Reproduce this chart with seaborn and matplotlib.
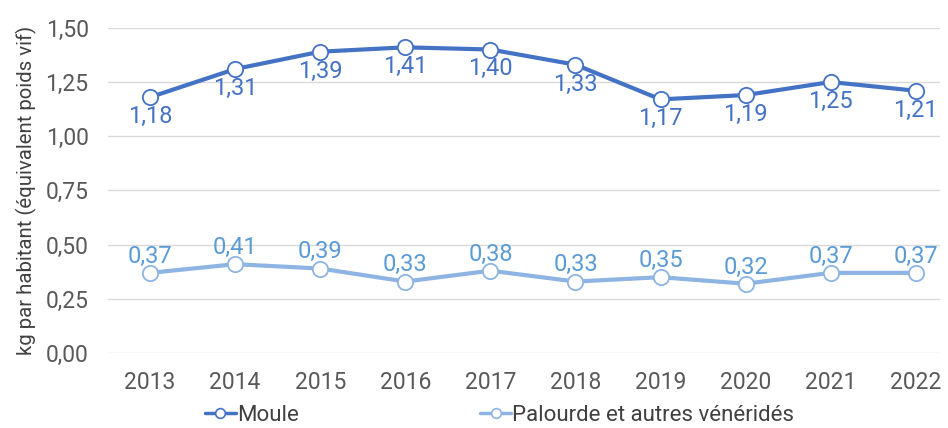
import matplotlib
matplotlib.use("Agg")
import matplotlib.pyplot as plt
import seaborn as sns
import pandas as pd
from matplotlib.lines import Line2D

years = ["2013", "2014", "2015", "2016", "2017", "2018", "2019", "2020", "2021", "2022"]
moule = [1.18, 1.31, 1.39, 1.41, 1.40, 1.33, 1.17, 1.19, 1.25, 1.21]
palourde = [0.37, 0.41, 0.39, 0.33, 0.38, 0.33, 0.35, 0.32, 0.37, 0.37]
series_names = ["Moule", "Palourde et autres vénéridés"]
y_ticks = [0.0, 0.25, 0.5, 0.75, 1.0, 1.25, 1.5]
y_label = "kg par habitant (équivalent poids vif)"

line_colors = ["#4472C4", "#8DB4E2"]
label_colors = ["#4472C4", "#5B9BD5"]

sns.set_theme(style="white")
plt.rcParams["font.family"] = ["Roboto", "DejaVu Sans"]

df = pd.DataFrame({
    "x": list(range(len(years))) * 2,
    "value": moule + palourde,
    "serie": [series_names[0]] * len(years) + [series_names[1]] * len(years),
})

fig = plt.figure(figsize=(9.48, 4.28), dpi=100)
ax = fig.add_axes([0.114, 0.175, 0.878, 0.76])

sns.lineplot(data=df, x="x", y="value", hue="serie", palette=line_colors,
             hue_order=series_names, marker="o", markersize=11,
             markerfacecolor="white", markeredgewidth=1.3, linewidth=3,
             ax=ax, legend=False, zorder=3)
for ln, c in zip(ax.get_lines(), line_colors):
    ln.set_markeredgecolor(c)

for i, v in enumerate(moule):
    ax.annotate(f"{v:.2f}".replace(".", ","), (i, v), xytext=(0, -14),
                textcoords="offset points", ha="center", va="center",
                fontsize=17, color=label_colors[0])
for i, v in enumerate(palourde):
    ax.annotate(f"{v:.2f}".replace(".", ","), (i, v), xytext=(0, 12),
                textcoords="offset points", ha="center", va="center",
                fontsize=17, color=label_colors[1])

ax.set_ylim(0, 1.5)
ax.set_xlim(-0.494, 9.29)
ax.set_yticks(y_ticks)
ax.set_yticklabels([f"{t:.2f}".replace(".", ",") for t in y_ticks])
ax.set_xticks(range(len(years)))
ax.set_xticklabels(years)
ax.tick_params(axis="both", length=0, labelsize=16.5, colors="#595959")
ax.tick_params(axis="x", pad=13)
ax.tick_params(axis="y", pad=14)
ax.set_xlabel("")
ax.set_ylabel(y_label, fontsize=14.7, color="#404040", labelpad=6)
ax.yaxis.grid(True, color="#D9D9D9", linewidth=1)
ax.set_axisbelow(True)
for s in ax.spines.values():
    s.set_visible(False)

handles = [Line2D([0], [0], color=c, lw=2.5, marker="o", markersize=7,
                  markerfacecolor="white", markeredgecolor=c, markeredgewidth=1.2)
           for c in line_colors]
fig.legend(handles, series_names, loc="center", bbox_to_anchor=(0.527, 0.03),
           ncol=2, frameon=False, fontsize=16, handlelength=1.4,
           handletextpad=0.05, columnspacing=8.15, labelcolor="#404040")

fig.savefig("out.png", dpi=100)
